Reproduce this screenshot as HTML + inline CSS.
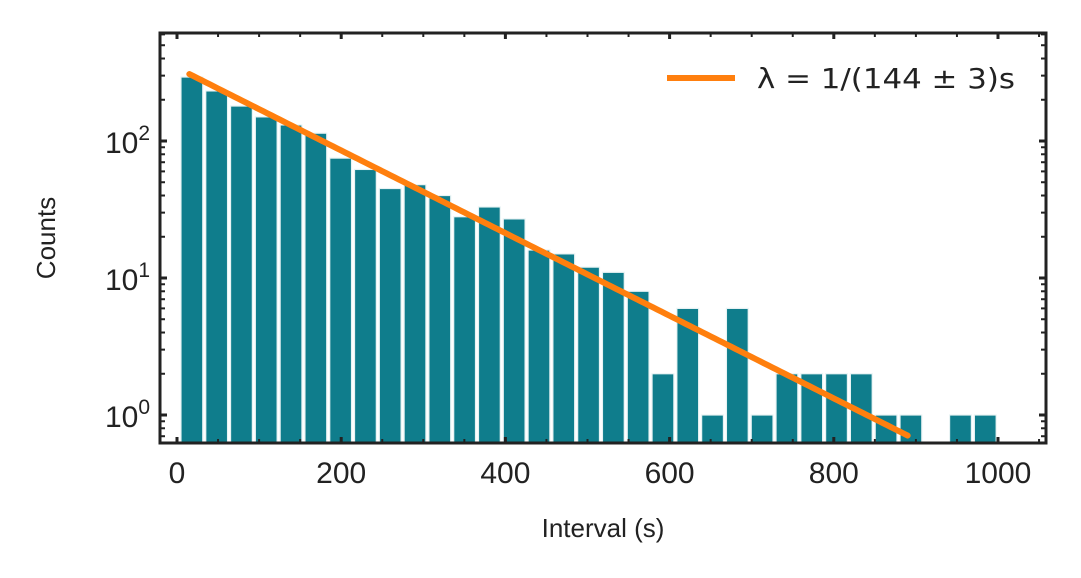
<!DOCTYPE html>
<html><head><meta charset="utf-8"><style>
body{margin:0;background:#fff;}
svg{display:block;font-family:"Liberation Sans","DejaVu Sans",sans-serif;}
</style></head><body>
<svg id="chart" width="1081" height="578"></svg>
<script>
const binStarts=[3,33.2,63.4,93.6,123.8,154,184.2,214.4,244.6,274.8,305,335.2,365.4,395.6,425.8,456,486.2,516.4,546.6,576.8,607,637.2,667.4,697.6,727.8,758,788.2,818.4,848.6,878.8,909,939.2,969.4];
const counts=[293,232,180,150,131,114,75,62,45,48,40,28,33,27,16,15,12,11,8,2,6,1,6,1,2,2,2,2,1,1,0,1,1];
const binWidth=30.2;
const fitRateDenom=144;
const fitAmp=342;
const fitRange=[15,890];
const xTicks=[0,200,400,600,800,1000];
const yTicks=[0,1,2];
const legendLabel="λ = 1/(144 ± 3)s";

const L=160,R=1046,T=33,B=443;
const X=v=>177+v*0.821;
const Y=c=>415-137*Math.log10(c);
const NS="http://www.w3.org/2000/svg";
const svg=document.getElementById('chart');
function mk(tag,attrs,parent){const e=document.createElementNS(NS,tag);for(const k in attrs)e.setAttribute(k,attrs[k]);(parent||svg).appendChild(e);return e;}

const bars=mk('g',{});


counts.forEach((c,i)=>{
  if(c<=0)return;
  const x0=X(binStarts[i])+1.5,x1=X(binStarts[i]+binWidth)-1.5;
  const r=mk('rect',{x:x0,y:Y(c),width:x1-x0,height:B-Y(c),fill:'#0f7d8c',stroke:'#e8f3f4','stroke-width':1.2},bars);
  
  
});

const pts=[];
for(let t=fitRange[0];t<=fitRange[1];t+=5){pts.push(X(t)+','+Y(fitAmp*Math.exp(-t/fitRateDenom)));}
const fl=mk('polyline',{points:pts.join(' '),fill:'none',stroke:'#ff7f0e','stroke-width':6,'stroke-linecap':'round'});



const fr=mk('rect',{x:L,y:T,width:R-L,height:B-T,fill:'none',stroke:'#222','stroke-width':3});



for(let v=0;v<=1050;v+=50){
  const x=X(v);if(x>R)break;
  const len=v%200===0?6:4,w=v%200===0?3:2;
  mk('line',{x1:x,x2:x,y1:B,y2:B-len,stroke:'#222','stroke-width':w});
  mk('line',{x1:x,x2:x,y1:T,y2:T+len,stroke:'#222','stroke-width':w});
}
xTicks.forEach(v=>{
  const t=mk('text',{x:X(v),y:483,'text-anchor':'middle','font-size':30,fill:'#222'});
  t.textContent=v;
  
  
});
for(let d=-1;d<=2;d++){
  for(let m=1;m<10;m++){
    const y=Y(m*Math.pow(10,d));
    if(y>B||y<T)continue;
    const len=m===1?7:5,w=m===1?3:2;
    mk('line',{x1:L,x2:L+len,y1:y,y2:y,stroke:'#222','stroke-width':w});
    mk('line',{x1:R,x2:R-len,y1:y,y2:y,stroke:'#222','stroke-width':w});
  }
}
yTicks.forEach(p=>{
  const t=mk('text',{x:150,y:Y(Math.pow(10,p))+12,'text-anchor':'end','font-size':30,fill:'#222'});
  t.innerHTML='10<tspan dy="-13" font-size="21">'+p+'</tspan>';
  
  
});
const xt=mk('text',{x:603,y:537,'text-anchor':'middle','font-size':26,fill:'#222'});
xt.textContent='Interval (s)';


const yt=mk('text',{x:0,y:0,'text-anchor':'middle','font-size':26,fill:'#222',transform:'translate(55,238) rotate(-90)'});
yt.textContent='Counts';


const lg=mk('g',{});


mk('line',{x1:667,x2:735,y1:78,y2:78,stroke:'#ff7f0e','stroke-width':6},lg);
const lt=mk('text',{x:757,y:88,'font-size':28,fill:'#222','font-family':'"DejaVu Sans",sans-serif',textLength:258,lengthAdjust:'spacingAndGlyphs'},lg);
lt.textContent=legendLabel;
</script>
</body></html>
